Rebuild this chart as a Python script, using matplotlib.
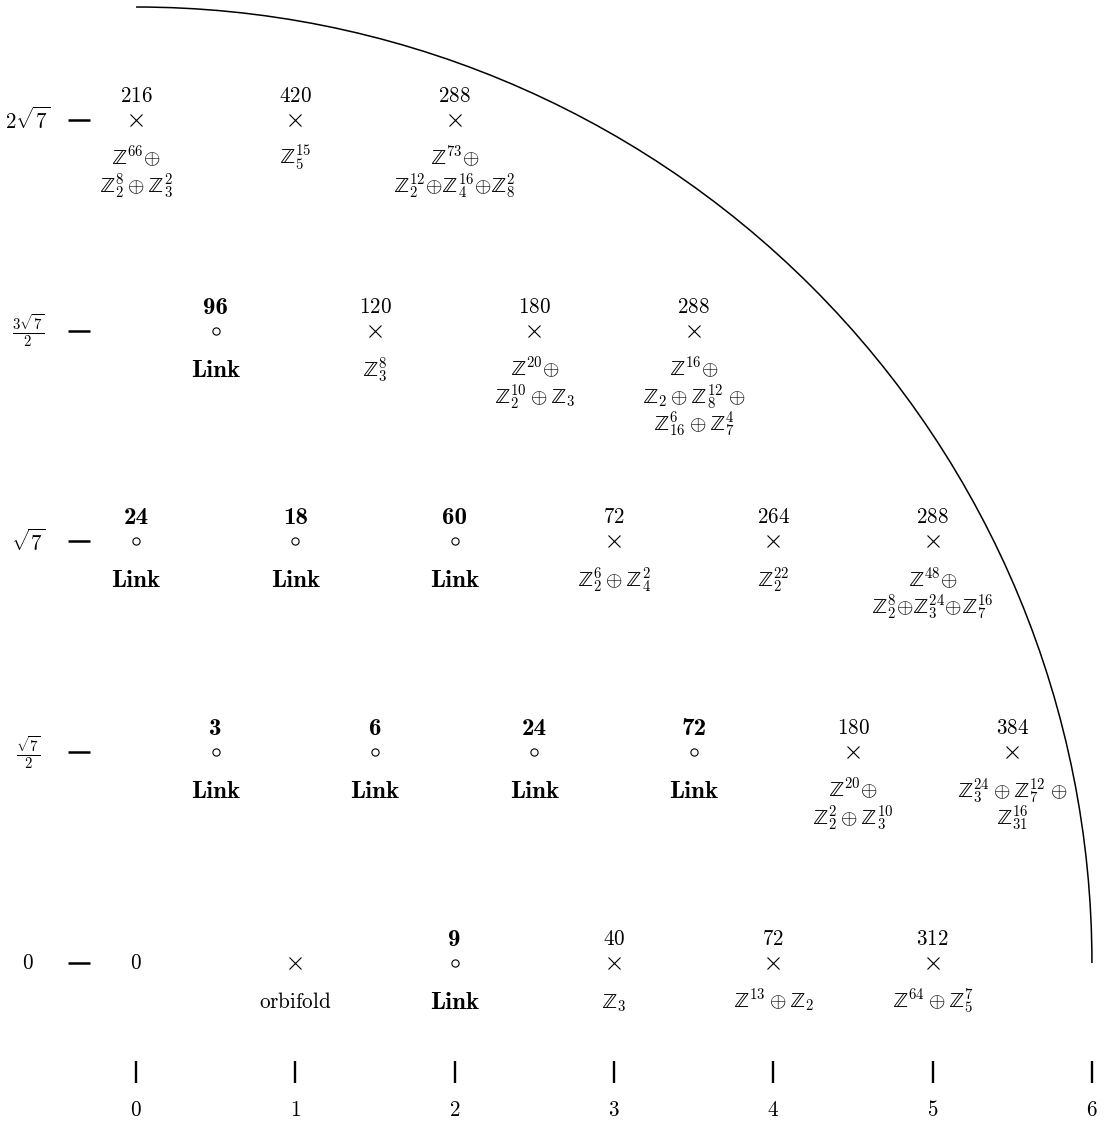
import numpy as np
import matplotlib
matplotlib.use("Agg")
import matplotlib.pyplot as plt
from matplotlib.patches import Arc

plt.rcParams['mathtext.fontset'] = 'cm'

# level index k -> y = k * sqrt(7) / 2
xs = [0, 1, 2, 3, 4, 5,
      0.5, 1.5, 2.5, 3.5, 4.5, 5.5,
      0, 1, 2, 3, 4, 5,
      0.5, 1.5, 2.5, 3.5,
      0, 1, 2]
levels = [0] * 6 + [1] * 6 + [2] * 6 + [3] * 4 + [4] * 3
kinds = ['zero', 'cross', 'link', 'cross', 'cross', 'cross',
         'link', 'link', 'link', 'link', 'cross', 'cross',
         'link', 'link', 'link', 'cross', 'cross', 'cross',
         'link', 'cross', 'cross', 'cross',
         'cross', 'cross', 'cross']
orders = ['', '', '9', '40', '72', '312',
          '3', '6', '24', '72', '180', '384',
          '24', '18', '60', '72', '264', '288',
          '96', '120', '180', '288',
          '216', '420', '288']
Z = r'\mathrm{ℤ}'
groups = [
    [], [r'$\mathrm{orbifold}$'], None, [f'${Z}_3$'], [f'${Z}^{{13}} \\oplus {Z}_2$'], [f'${Z}^{{64}} \\oplus {Z}_5^7$'],
    None, None, None, None,
    [f'${Z}^{{20}}{{\\oplus}}$', f'${Z}_2^2 \\oplus {Z}_3^{{10}}$'],
    [f'${Z}_3^{{24}} \\oplus {Z}_7^{{12}} \\;{{\\oplus}}$', f'${Z}_{{31}}^{{16}}$'],
    None, None, None,
    [f'${Z}_2^6 \\oplus {Z}_4^2$'], [f'${Z}_2^{{22}}$'],
    [f'${Z}^{{48}}{{\\oplus}}$', f'${Z}_2^8{{\\oplus}}{Z}_3^{{24}}{{\\oplus}}{Z}_7^{{16}}$'],
    None, [f'${Z}_3^8$'],
    [f'${Z}^{{20}}{{\\oplus}}$', f'${Z}_2^{{10}} \\oplus {Z}_3$'],
    [f'${Z}^{{16}}{{\\oplus}}$', f'${Z}_2 \\oplus {Z}_8^{{12}} \\;{{\\oplus}}$', f'${Z}_{{16}}^6 \\oplus {Z}_7^4$'],
    [f'${Z}^{{66}}{{\\oplus}}$', f'${Z}_2^8 \\oplus {Z}_3^2$'], [f'${Z}_5^{{15}}$'],
    [f'${Z}^{{73}}{{\\oplus}}$', f'${Z}_2^{{12}}{{\\oplus}}{Z}_4^{{16}}{{\\oplus}}{Z}_8^2$'],
]

xticks = [0, 1, 2, 3, 4, 5, 6]
yticks_k = [0, 1, 2, 3, 4]
ytick_labels = [r'$0$', r'$\frac{\sqrt{7}}{2}$', r'$\sqrt{7}$', r'$\frac{3\sqrt{7}}{2}$', r'$2\sqrt{7}$']
radius = 6

s7 = np.sqrt(7) / 2
ys = [k * s7 for k in levels]

fig = plt.figure(figsize=(11.05, 11.25), dpi=100)
ax = fig.add_axes([0, 0, 1, 1])
ax.set_xlim(-0.854, 6.082)
ax.set_ylim(-1.017, 6.044)
ax.axis('off')

ax.add_patch(Arc((0, 0), 2 * radius, 2 * radius, theta1=0, theta2=90, color='black', lw=1.1))

fs = 15.2
fs_b = 18
for x, y, kind, order, grp in zip(xs, ys, kinds, orders, groups):
    if kind == 'zero':
        ax.text(x, y, r'$0$', ha='center', va='center', fontsize=fs)
        continue
    if kind == 'cross':
        ax.plot(x, y, marker='x', ms=8.6, mew=0.8, color='black')
        if order:
            ax.annotate(f'${order}$', (x, y), xytext=(0, 18), textcoords='offset pixels',
                        ha='center', va='baseline', fontsize=fs)
        for i, line in enumerate(grp):
            ax.annotate(line, (x, y), xytext=(0, -45 - 27 * i), textcoords='offset pixels',
                        ha='center', va='baseline', fontsize=fs)
    else:
        ax.plot(x, y, marker='o', ms=5.2, mew=0.8, mfc='white', mec='black')
        ax.annotate(order, (x, y), xytext=(0, 17), textcoords='offset pixels',
                    ha='center', va='baseline', fontsize=fs_b, family='cmb10')
        ax.annotate('Link', (x, y), xytext=(0, -46), textcoords='offset pixels',
                    ha='center', va='baseline', fontsize=fs_b, family='cmb10')

# axis ticks drawn as marks
ax.plot([-0.361] * len(yticks_k), [k * s7 for k in yticks_k], ls='none', marker='_',
        ms=15.6, mew=1.8, color='black')
for k, lab in zip(yticks_k, ytick_labels):
    ax.text(-0.678, k * s7, lab, ha='center', va='center', fontsize=fs)

ax.plot(xticks, [-0.684] * len(xticks), ls='none', marker='|', ms=15.8, mew=1.7, color='black')
for t in xticks:
    ax.text(t, -0.923, f'${t}$', ha='center', va='center', fontsize=fs)

fig.savefig('out.png', dpi=100)
